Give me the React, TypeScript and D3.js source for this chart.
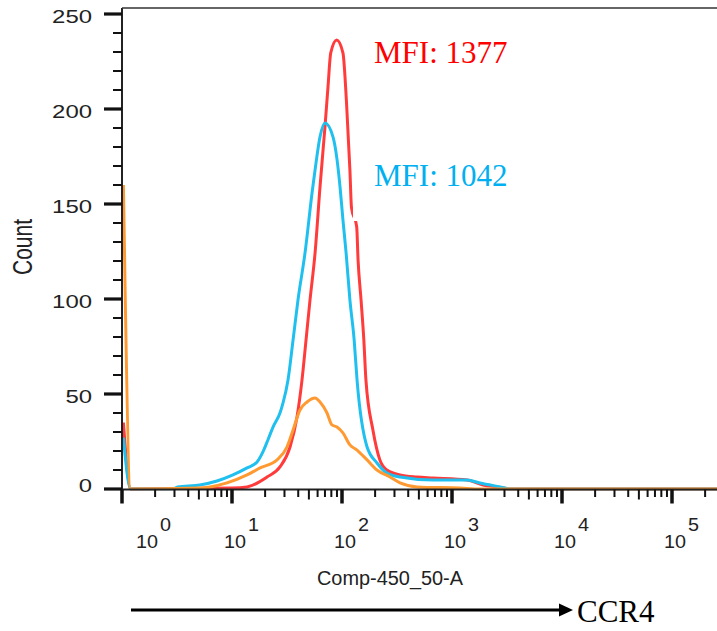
import React from "react";
import * as d3 from "d3";

// ---- data (fluorescence value, event count) ----
const redSeries: [number, number][] = [
  [1.03, 35], [1.2, 0], [10, 0.5], [13.7, 1.1], [20.8, 6.3], [27.3, 11.6], [33.7, 22.1],
  [39.0, 37.9], [43.3, 57.4], [47.1, 78.4], [51.2, 99.5], [56.9, 124.2], [63.1, 158.9],
  [70.0, 190.5], [74.6, 211.6], [79, 229.5], [89.5, 236.3], [102, 229.5], [110, 203],
  [118, 168], [122, 148], [136, 138], [140, 120.5], [149, 99.5], [158, 78.4], [165, 57.4],
  [191, 31.1], [221, 15.3], [256, 10], [337, 7.4], [481, 6.3], [672, 5.8], [1370, 4.7],
  [1914, 2.1], [2566, 1.1], [3400, 0], [260000, 0],
];
const blueSeries: [number, number][] = [
  [1.03, 27], [1.2, 0], [2.9, 0], [3.2, 1.1], [5.1, 2.1], [7.3, 4.2], [10.2, 7.4],
  [13.7, 11.1], [16.9, 14.2], [19.1, 19.5], [21.2, 25.8], [23.6, 32.6], [27.3, 40],
  [29.1, 45.3], [32.3, 57.4], [35.9, 78.4], [39.8, 99.5], [46.1, 124.2], [53.4, 155.8],
  [56.9, 167.9], [63.1, 185.3], [70, 192.6], [82.8, 185.3], [90.2, 173.2], [96, 158.9],
  [102, 141.6], [109, 124.2], [118, 99.5], [129, 78.4], [137, 57.4], [169, 22.1],
  [208, 13.7], [256, 8.4], [337, 6.3], [672, 4.7], [1370, 4.7], [1798, 3.2], [2731, 1.1],
  [3400, 0], [260000, 0],
];
const orangeSeries: [number, number][] = [
  [1.03, 160], [1.2, 0], [5.1, 0.5], [6.3, 1.1], [9, 3.2], [13.7, 7.4], [18, 11.1],
  [25.7, 15.3], [31.6, 22.1], [35.9, 31.1], [41.5, 41.6], [48.1, 45.8], [56.9, 47.9],
  [63.1, 45.8], [73.1, 40], [81, 33.7], [90, 32.6], [102, 29.5], [118, 23.2], [137, 20.5],
  [169, 15.3], [208, 10], [273, 6.3], [337, 3.2], [481, 1.1], [1183, 0.5], [1800, 0],
  [260000, 0],
];

const xDecades = [1, 10, 100, 1000, 10000, 100000];
const xDecadeLabels = ["0", "1", "2", "3", "4", "5"];
const yMajorTicks = [0, 50, 100, 150, 200, 250];
const yMinorTicks = d3.range(0, 251, 10);
const mfiLabels = ["MFI: 1377", "MFI: 1042"];

const W = 717;
const H = 631;
const L = 122;
const R = 717;
const T = 8;
const B = 489.5;

export default function App() {
  const x = d3.scaleLog().domain([1, 1e5]).range([L, 672]);
  const y = d3.scaleLinear().domain([0, 250]).range([489, 14]);
  const line = d3
    .line<[number, number]>()
    .x((d) => x(d[0]))
    .y((d) => y(d[1]))
    .curve(d3.curveMonotoneX);

  const xMinor: number[] = [];
  xDecades.forEach((d) => {
    for (let k = 2; k <= 9; k++) {
      const v = k * d;
      if (x(v) <= R) xMinor.push(v);
    }
  });

  const sans = "'Liberation Sans', Arial, sans-serif";
  const serif = "'Liberation Serif', 'Times New Roman', serif";

  return (
    <svg
      width={W}
      height={H}
      style={{ position: "absolute", left: 0, top: 0, background: "#fff" }}
    >
      <rect x={0} y={0} width={W} height={H} fill="#fff" />
      <defs>
        <clipPath id="plot">
          <rect x={L} y={T} width={R - L} height={B - T + 1} />
        </clipPath>
      </defs>

      {/* curves */}
      <g clipPath="url(#plot)" fill="none" strokeWidth={3} strokeLinejoin="round">
        <path d={line(redSeries) || ""} stroke="#ff3b3b" />
        <path d={line(blueSeries) || ""} stroke="#1fc0ef" />
        <path d={line(orangeSeries) || ""} stroke="#ff9a33" />
      </g>

      {/* frame */}
      <line x1={L} x2={L} y1={T} y2={B + 1} stroke="#222" strokeWidth={2} />
      <line x1={L} x2={R} y1={T} y2={T} stroke="#333" strokeWidth={1.5} />
      <line x1={L - 1} x2={R} y1={B} y2={B} stroke="#222" strokeWidth={2} />

      {/* y ticks */}
      {yMinorTicks.map((v) => (
        <line key={"ym" + v} x1={113} x2={L} y1={y(v)} y2={y(v)} stroke="#111" strokeWidth={2} />
      ))}
      {yMajorTicks.map((v) => (
        <line key={"yM" + v} x1={104} x2={L} y1={y(v)} y2={y(v)} stroke="#111" strokeWidth={3.2} />
      ))}
      {yMajorTicks.map((v) => {
        const s = String(v);
        return (
          <text
            key={"yl" + v}
            x={92}
            y={y(v) + (v === 0 ? 3 : 9)}
            textAnchor="end"
            fontFamily={sans}
            fontSize={19}
            fill="#222"
            textLength={s.length * 13.3}
            lengthAdjust="spacingAndGlyphs"
          >
            {s}
          </text>
        );
      })}
      <text
        transform={`translate(32,247) scale(1.3,1) rotate(-90)`}
        textAnchor="middle"
        fontFamily={sans}
        fontSize={21}
        fill="#222"
      >
        Count
      </text>

      {/* x ticks */}
      {xMinor.map((v, i) => {
        const isFive = Math.abs(v / Math.pow(10, Math.floor(Math.log10(v) + 1e-9)) - 5) < 1e-6;
        return (
          <line
            key={"xm" + i}
            x1={x(v)}
            x2={x(v)}
            y1={B}
            y2={B + (isFive ? 10 : 7.5)}
            stroke="#111"
            strokeWidth={2}
          />
        );
      })}
      {xDecades.map((v) => (
        <line key={"xM" + v} x1={x(v)} x2={x(v)} y1={B} y2={B + 14} stroke="#111" strokeWidth={3.5} />
      ))}
      {xDecades.map((v, i) => {
        const startX = Math.max(x(v) - 8, 136);
        return (
          <g key={"xl" + v} fontFamily={sans} fill="#222">
            <text x={startX} y={548} fontSize={18} textLength={22} lengthAdjust="spacingAndGlyphs">
              10
            </text>
            <text x={startX + 24} y={531} fontSize={18} textLength={11} lengthAdjust="spacingAndGlyphs">
              {xDecadeLabels[i]}
            </text>
          </g>
        );
      })}
      <text
        x={390}
        y={585}
        textAnchor="middle"
        fontFamily={sans}
        fontSize={20}
        fill="#222"
        textLength={146}
        lengthAdjust="spacingAndGlyphs"
      >
        Comp-450_50-A
      </text>

      {/* MFI annotations */}
      <text x={374} y={63} fontFamily={serif} fontSize={31} fill="#ff0000">
        {mfiLabels[0]}
      </text>
      <rect x={353} y={140} width={170} height={81} fill="#fff" />
      <text x={374} y={186} fontFamily={serif} fontSize={31} fill="#00b0f0">
        {mfiLabels[1]}
      </text>

      {/* CCR4 arrow */}
      <line x1={131} x2={562} y1={610} y2={610} stroke="#000" strokeWidth={3} />
      <polygon points="559,603.5 573,610 559,616.5" fill="#000" />
      <text x={577} y={622} fontFamily={serif} fontSize={31} fill="#000">
        CCR4
      </text>
    </svg>
  );
}
